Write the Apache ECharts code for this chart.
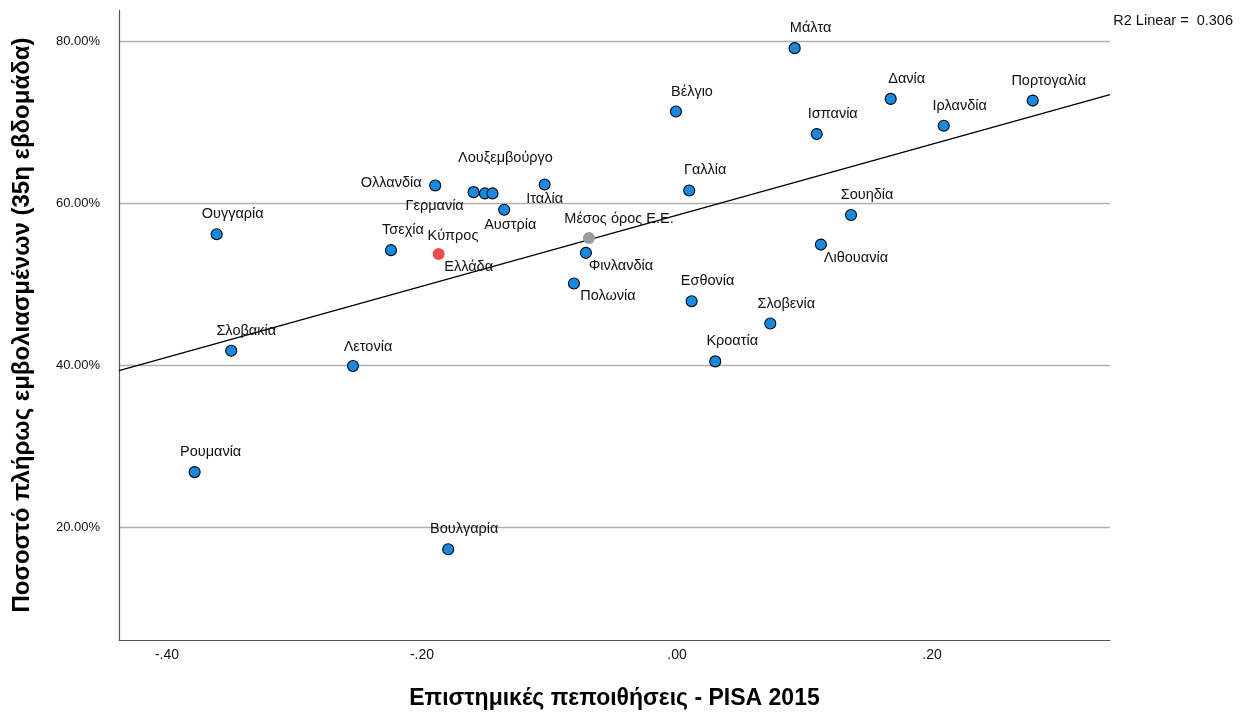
<!DOCTYPE html>
<html><head><meta charset="utf-8">
<script src="https://cdn.jsdelivr.net/npm/echarts@6/dist/echarts.min.js"></script>
<style>html,body{margin:0;padding:0;background:#fff}#c{width:1244px;height:715px}</style>
</head><body><div id="c"></div>
<script>
// ---- data ----
const countries = ['Μάλτα','Βέλγιο','Δανία','Πορτογαλία','Ισπανία','Ιρλανδία','Γαλλία','Ιταλία','Ολλανδία',
  'Γερμανία','Κύπρος','Λουξεμβούργο','Αυστρία','Σουηδία','Ουγγαρία','Τσεχία','Ελλάδα','Μέσος όρος Ε.Ε.',
  'Φινλανδία','Λιθουανία','Πολωνία','Εσθονία','Σλοβενία','Σλοβακία','Λετονία','Κροατία','Ρουμανία','Βουλγαρία'];
const beliefs = [0.0923,-0.0008,0.1676,0.2790,0.1096,0.2092,0.0096,-0.1038,-0.1896,
  -0.1595,-0.1506,-0.1447,-0.1355,0.1365,-0.3610,-0.2243,-0.1869,-0.0690,
  -0.0714,0.1129,-0.0808,0.0115,0.0732,-0.3496,-0.2541,0.0300,-0.3783,-0.1794];
const vaccinated = [79.19,71.36,72.92,72.71,68.57,69.60,61.61,62.34,62.22,
  61.40,61.24,61.24,59.22,58.57,56.20,54.23,53.77,55.74,
  53.90,54.92,50.12,47.91,45.17,41.81,39.92,40.49,26.81,17.29];
const highlightRed = 'Ελλάδα';
const highlightGray = 'Μέσος όρος Ε.Ε.';
const fitSlope = 43.88;
const fitIntercept = 58.55;
const r2Label = 'R2 Linear =  0.306';
const xTitle = 'Επιστημικές πεποιθήσεις - PISA 2015';
const yTitle = 'Ποσοστό πλήρως εμβολιασμένων (35η εβδομάδα)';
const xRange = [-0.4376, 0.3396];
const yRange = [6.07, 83.9];

// ---- label placement (layout, not data) ----
const up = [16, -20];
const labelOffset = {
  'Ολλανδία': [-44, -2], 'Γερμανία': [-39, 14], 'Κύπρος': [-32, 43], 'Λουξεμβούργο': [13, -35],
  'Αυστρία': [6, 15], 'Ιταλία': [0, 14], 'Ελλάδα': [30, 13], 'Μέσος όρος Ε.Ε.': [30, -19],
  'Φινλανδία': [35, 13], 'Πολωνία': [34, 13], 'Λιθουανία': [35, 13], 'Τσεχία': [12, -20],
  'Ουγγαρία': [16, -20], 'Σλοβακία': [15, -20], 'Λετονία': [15, -19], 'Κροατία': [17, -20]
};

const FONT = '"Liberation Sans", Arial, sans-serif';
const isMult = (v, step) => Math.abs(v / step - Math.round(v / step)) < 1e-6;
const fmtX = v => {
  if (!isMult(v, 0.2)) return '';
  let s = (Math.round(v * 100) / 100).toFixed(2);
  return s.replace(/^(-?)0\./, '$1.');
};
const fmtY = v => isMult(v, 20) ? v.toFixed(2) + '%' : '';

const points = countries.map((n, i) => {
  const isRed = n === highlightRed, isGray = n === highlightGray;
  return {
    name: n,
    value: [beliefs[i], vaccinated[i]],
    symbolSize: (isRed || isGray) ? 12 : 11,
    itemStyle: isRed ? { color: '#ee4c4f', borderWidth: 0, opacity: 1 }
      : isGray ? { color: '#9a9a9a', borderWidth: 0, opacity: 1 }
      : { color: '#168ae3', borderColor: '#000', borderWidth: 1.1, opacity: 1 },
    label: { offset: labelOffset[n] || up },
    z: (isRed || isGray) ? 4 : 3
  };
});

const chart = echarts.init(document.getElementById('c'), null, { renderer: 'canvas' });
chart.setOption({
  animation: false,
  backgroundColor: '#fff',
  textStyle: { fontFamily: FONT },
  grid: { left: 119, right: 134, top: 10, bottom: 72, containLabel: false },
  graphic: [{
    type: 'text', right: 11, top: 13,
    style: { text: r2Label, font: '14.5px ' + FONT, fill: '#111' }
  }],
  xAxis: {
    type: 'value', min: xRange[0], max: xRange[1], splitNumber: 5,
    name: xTitle, nameLocation: 'middle', nameGap: 47,
    nameTextStyle: { fontSize: 23, fontWeight: 'bold', color: '#000', fontFamily: FONT },
    axisLine: { show: true, onZero: false, lineStyle: { color: '#555', width: 1.2 } },
    axisTick: { show: false },
    splitLine: { show: false },
    axisLabel: { formatter: fmtX, fontSize: 14, color: '#111', margin: 8, fontFamily: FONT }
  },
  yAxis: {
    type: 'value', min: yRange[0], max: yRange[1], splitNumber: 5,
    name: yTitle, nameLocation: 'middle', nameGap: 85,
    nameTextStyle: { fontSize: 24, fontWeight: 'bold', color: '#000', fontFamily: FONT },
    axisLine: { show: true, onZero: false, lineStyle: { color: '#555', width: 1.2 } },
    axisTick: { show: false },
    splitLine: { show: true, showMinLine: false, showMaxLine: false, lineStyle: { color: '#b0b0b0', width: 1.3 } },
    axisLabel: { formatter: fmtY, fontSize: 13, color: '#111', margin: 19, fontFamily: FONT }
  },
  series: [
    {
      type: 'line', z: 2, silent: true, symbol: 'none',
      lineStyle: { color: '#000', width: 1.4 },
      data: xRange.map(x => [x, fitIntercept + fitSlope * x])
    },
    {
      type: 'scatter', z: 3,
      itemStyle: { opacity: 1 },
      label: {
        show: true, position: 'inside', formatter: '{b}',
        fontSize: 14.5, color: '#111', align: 'center', verticalAlign: 'middle', fontFamily: FONT
      },
      data: points
    }
  ]
});
</script></body></html>
